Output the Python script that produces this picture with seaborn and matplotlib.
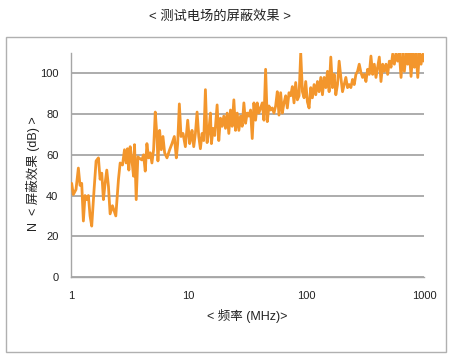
import matplotlib
matplotlib.use("Agg")
import matplotlib.pyplot as plt
import matplotlib.ticker as mticker
from matplotlib.patches import Rectangle
import seaborn as sns
import pandas as pd

# ---- data ----
freq_mhz = [
    1.013, 1.047, 1.103, 1.155, 1.193, 1.233, 1.274, 1.316, 1.360, 1.405,
    1.452, 1.500, 1.571, 1.634, 1.710, 1.767, 1.826, 1.886, 1.949, 2.014,
    2.081, 2.150, 2.251, 2.403, 2.532, 2.617, 2.740, 2.849, 2.943, 3.022,
    3.102, 3.184, 3.290, 3.400, 3.467, 3.583, 3.701, 3.875, 4.004, 4.137,
    4.275, 4.417, 4.564, 4.716, 4.872, 5.034, 5.202, 5.375, 5.481, 5.664,
    5.852, 6.047, 6.248, 6.541, 6.893, 7.216, 7.554, 7.856, 8.065, 8.333,
    8.610, 8.954, 9.374, 9.813, 10.20,
    10.34, 10.68, 11.04, 11.41, 11.79, 12.18, 12.58, 13.00, 13.43, 13.88,
    14.34, 14.82, 15.31, 15.61, 16.13, 16.67, 17.45, 18.03, 18.63, 19.25,
    19.89, 20.55, 21.23, 21.94, 22.67, 23.43, 24.21, 25.01, 25.85, 26.71,
    27.59, 28.51, 29.46, 30.44, 31.45, 32.50, 33.58, 34.70, 35.85, 37.04,
    38.27, 39.54, 40.86, 42.22, 43.62, 45.07, 46.57, 48.12, 49.72, 51.37,
    53.08, 54.84, 56.66, 58.56, 60.50, 62.52, 64.59, 66.74, 68.96, 71.25,
    73.62, 76.07, 78.60, 81.21, 83.93, 86.71,
    89.6, 92.6, 95.7, 98.8, 102.1, 105.5, 109.0, 112.6, 116.4, 120.3,
    124.3, 128.4, 132.7, 137.1, 141.7, 146.4, 151.2, 156.2, 161.4, 166.8,
    172.4, 178.1, 184.0, 190.1, 196.5, 203.0, 209.8, 216.7, 223.9, 231.4,
    239.1, 247.0, 255.3, 263.8, 272.5, 281.6, 291.0, 300.6, 310.6, 321.0,
    331.7, 342.7, 354.1, 365.9, 378.1, 390.6, 403.6, 417.0, 430.9, 445.3,
    460.1, 475.4, 491.2, 507.5, 524.4, 541.9, 559.9, 578.5, 597.7, 617.6,
    638.2, 659.2, 681.1, 703.8, 727.2, 751.4, 776.3, 802.2, 828.8, 856.4,
    884.9, 914.3, 944.6, 975.9, 1000.0,
]
shield_db = [
    46, 40.5, 43, 53.5, 45, 46, 27.5, 40, 38, 40,
    30, 25, 43, 57, 58.5, 48, 51, 38, 46, 52.5,
    44.5, 31, 35, 30, 48, 56, 55, 62.5, 56, 63,
    52.5, 64, 57.5, 49.5, 65, 38, 59, 58, 57.5, 60,
    52, 65.5, 58.5, 61, 56, 62.5, 81, 69, 57, 72,
    62.5, 69, 61, 58.5, 62.5, 65.5, 69, 58.5, 65.5, 85,
    69, 70.5, 64, 77, 65.5,
    67, 72, 64, 70.5, 81, 69, 63, 70.5, 67, 92,
    66, 71.5, 80.5, 65.5, 73, 69.5, 84.5, 67, 78, 74,
    79, 73, 80.5, 70.5, 82, 74, 87, 72, 80.5, 72,
    79, 74, 85.5, 75.5, 80.5, 79, 82, 68, 85.5, 77,
    85.5, 80.5, 83, 85.5, 77, 102, 76.3, 84, 82, 83,
    80.5, 84, 91, 79.5, 90.5, 80.5, 85.5, 89, 83, 90.5,
    89, 93.5, 85.5, 95.5, 87, 89,
    110, 91, 88, 96, 86, 83, 93, 88, 94.5, 89.5,
    96, 91, 98, 89.5, 98, 93, 101, 91, 108, 93,
    99.5, 89.5, 94.5, 106, 98, 91, 94.5, 98, 93, 94.5,
    93, 97, 94.5, 99.5, 101, 104.5, 100.5, 98, 99.5, 96,
    102, 99.5, 108.5, 99.5, 104.5, 98, 103, 108, 96, 104.5,
    101, 104.5, 99.5, 106, 103, 109.5, 104.5, 110, 106, 110,
    98, 110, 101, 110, 104.5, 110, 98.5, 110, 103, 110,
    98, 110, 104.5, 109.5, 106,
]
x_ticks = [1, 10, 100, 1000]
x_tick_labels = ["1", "10", "100", "1000"]
y_ticks = [0, 20, 40, 60, 80, 100]

title_text = "< 测试电场的屏蔽效果 >"
x_label = "< 频率 (MHz)>"
y_label = "N  < 屏蔽效果 (dB) >"

df = pd.DataFrame({"freq": freq_mhz, "db": shield_db})

# ---- style ----
sns.set_style("white")
plt.rcParams["font.family"] = ["Liberation Sans", "Noto Sans CJK SC", "DejaVu Sans"]

W, H = 450, 356
fig = plt.figure(figsize=(W / 100, H / 100), dpi=100)
ax = fig.add_axes([71 / W, 1 - 277 / H, (424 - 71) / W, (277 - 53) / H])

line_color = "#F3962C"
grid_color = "#A6A6A6"
text_color = "#222222"

sns.lineplot(data=df, x="freq", y="db", ax=ax, color=line_color,
             linewidth=2.0, estimator=None, sort=False, zorder=3)

ax.set_xscale("log")
ax.set_xlim(1, 1000)
ax.set_ylim(0, 110)

ax.set_xticks(x_ticks)
ax.set_xticklabels(x_tick_labels)
ax.xaxis.set_minor_locator(mticker.LogLocator(base=10, subs=range(2, 10)))
ax.xaxis.set_minor_formatter(mticker.NullFormatter())
ax.tick_params(axis="x", which="both", direction="inout", length=6,
               width=0.8, color=grid_color, labelsize=8, pad=7,
               labelcolor=text_color)
ax.set_yticks(y_ticks)
ax.tick_params(axis="y", which="both", length=0, labelsize=8, pad=9,
               labelcolor=text_color)

ax.yaxis.grid(True, color=grid_color, linewidth=1.3)
ax.xaxis.grid(False)
ax.set_axisbelow(True)

for side in ("top", "right"):
    ax.spines[side].set_visible(False)
for side in ("left", "bottom"):
    ax.spines[side].set_color(grid_color)
    ax.spines[side].set_linewidth(1.0)

ax.set_xlabel(x_label, fontsize=9, color=text_color, labelpad=6)
ax.set_ylabel(y_label, fontsize=9, color=text_color)
ax.yaxis.set_label_coords(-(71 - 40) / (424 - 71), (277 - 174) / (277 - 53))

fig.text(220 / W, 1 - 17 / H, title_text, ha="center", va="center",
         fontsize=9.5, color=text_color)

fig.patches.append(Rectangle((6 / W, 1 - 352 / H), (446 - 6) / W, (352 - 37) / H,
                             transform=fig.transFigure, fill=False,
                             edgecolor="#B0B0B0", linewidth=1.0))

fig.savefig("out.png", dpi=100)
